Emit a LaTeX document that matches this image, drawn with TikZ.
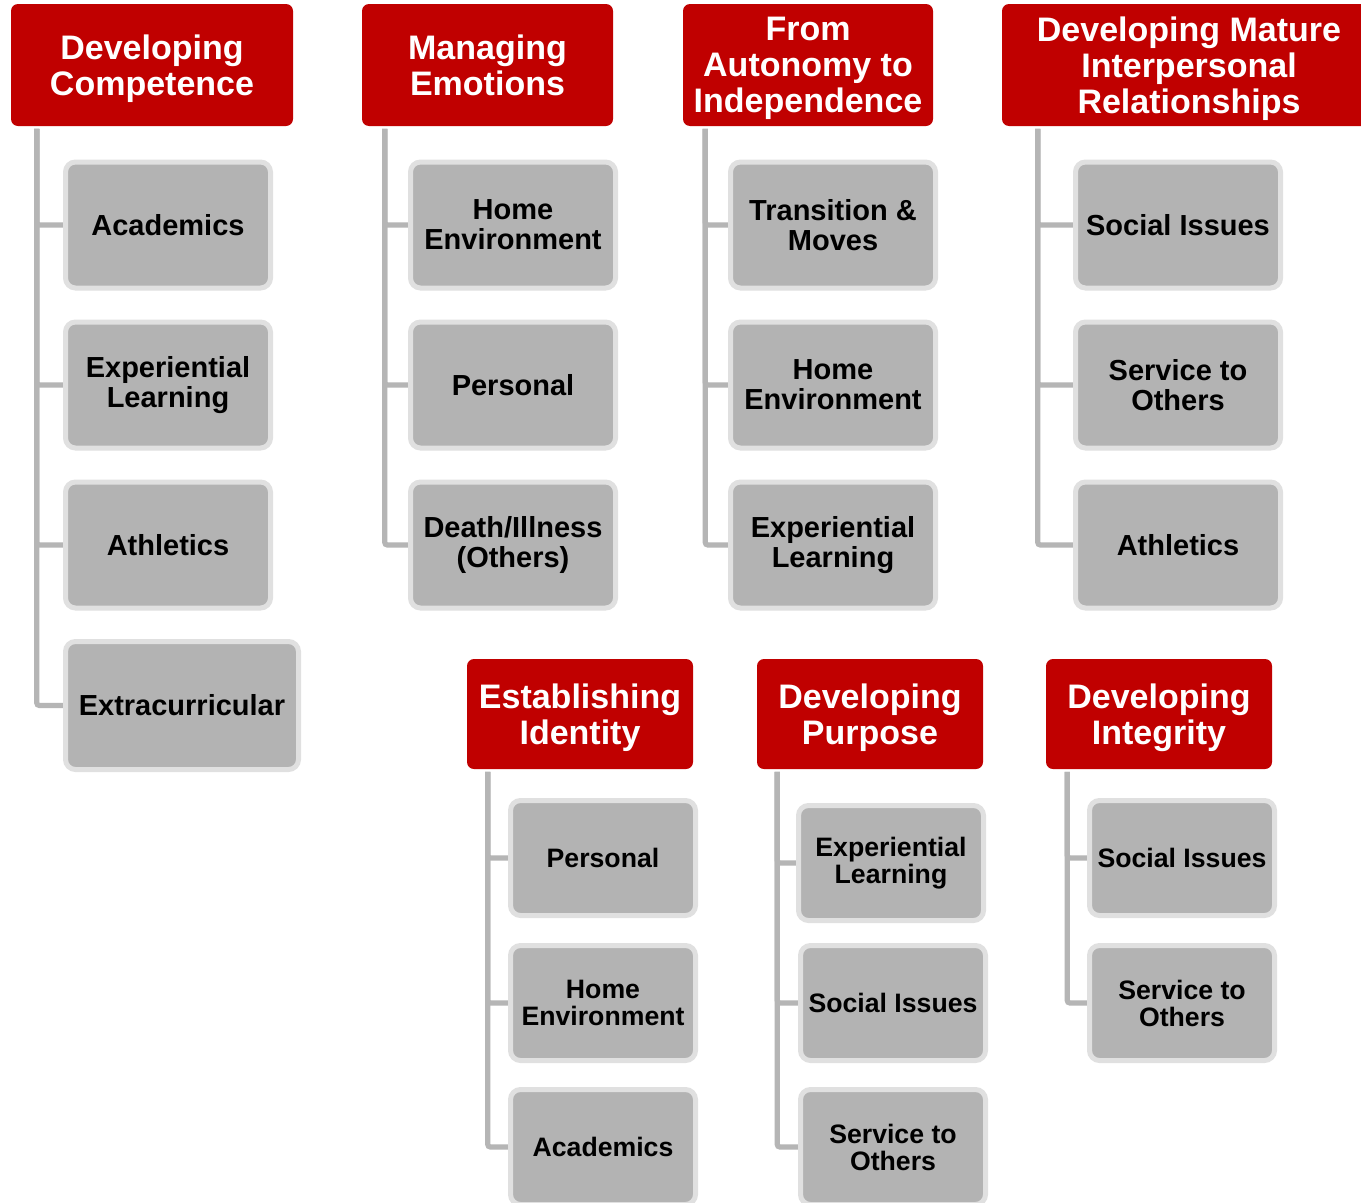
\documentclass[tikz,border=0pt]{standalone}
\usepackage{fontspec}
\setmainfont{Liberation Sans}
\usetikzlibrary{calc,backgrounds}
\definecolor{hdrred}{HTML}{C00000}
\definecolor{boxgray}{HTML}{B3B3B3}
\definecolor{boxedge}{HTML}{E0E0E0}
\definecolor{linegray}{HTML}{B5B5B5}
\tikzset{
  hdr/.style={fill=hdrred, text=white, rounded corners=5.25pt, inner sep=0pt,
    align=center, text depth=0pt, font=\fontsize{25.5}{27}\selectfont\bfseries},
  hdrbig/.style={hdr, minimum height=91.5pt},
  hdrsmall/.style={hdr, minimum width=169.5pt, minimum height=82.5pt},
  ubox/.style={fill=boxgray, draw=boxedge, line width=3.75pt, rounded corners=7.5pt,
    inner sep=0pt, align=center, text=black,
    minimum width=153.75pt, minimum height=94.5pt,
    font=\fontsize{21.75}{22.5}\selectfont\bfseries},
  lbox/.style={ubox, minimum width=138.75pt, minimum height=86.25pt,
    font=\fontsize{20}{20.25}\selectfont\bfseries},
  conn/.style={draw=linegray, line width=3.9pt, rounded corners=2pt}
}
\begin{document}
\begin{tikzpicture}[x=0.75pt,y=-0.75pt]
\useasboundingbox (0,0) rectangle (1361,1203);
\clip (0,0) rectangle (1361,1203);

% headers
\node[hdrbig, minimum width=211.5pt] (h1) at (152,65) {Developing\\Competence};
\node[hdrbig, minimum width=188.25pt] (h2) at (487.5,65) {Managing\\Emotions};
\node[hdrbig, minimum width=187.5pt] (h3) at (808,65) {From\\Autonomy to\\Independence};
\node[hdrbig, minimum width=280.5pt] (h4) at (1189,65) {Developing Mature\\Interpersonal\\Relationships};
\node[hdrsmall] (h5) at (580,714) {Establishing\\Identity};
\node[hdrsmall] (h6) at (870,714) {Developing\\Purpose};
\node[hdrsmall] (h7) at (1159,714) {Developing\\Integrity};

% column 1
\node[ubox] (a1) at (168,225) {Academics};
\node[ubox] (a2) at (168,385) {Experiential\\Learning};
\node[ubox] (a3) at (168,545) {Athletics};
\node[ubox, minimum width=174.75pt, minimum height=96pt] (a4) at (182,705.5) {Extracurricular};

% column 2
\node[ubox] (b1) at (513,225) {Home\\Environment};
\node[ubox] (b2) at (513,385) {Personal};
\node[ubox] (b3) at (513,545) {Death/Illness\\(Others)};

% column 3
\node[ubox] (c1) at (833,225) {Transition \&\\Moves};
\node[ubox] (c2) at (833,385) {Home\\Environment};
\node[ubox] (c3) at (833,545) {Experiential\\Learning};

% column 4
\node[ubox] (d1) at (1178,225) {Social Issues};
\node[ubox] (d2) at (1178,385) {Service to\\Others};
\node[ubox] (d3) at (1178,545) {Athletics};

% column 5
\node[lbox] (e1) at (603,858) {Personal};
\node[lbox] (e2) at (603,1003) {Home\\Environment};
\node[lbox] (e3) at (603,1147) {Academics};

% column 6
\node[lbox] (f1) at (891,863) {Experiential\\Learning};
\node[lbox] (f2) at (893,1003) {Social Issues};
\node[lbox] (f3) at (893,1147) {Service to\\Others};

% column 7
\node[lbox] (g1) at (1182,858) {Social Issues};
\node[lbox] (g2) at (1182,1003) {Service to\\Others};

\begin{scope}[on background layer]
\fill[white] (0,0) rectangle (1361,1203);
\foreach \c in {a1,a2,a3,a4}{\draw[conn] ($(h1.south west)+(26,2.5)$) |- (\c.west);}
\foreach \c in {b1,b2,b3}{\draw[conn] ($(h2.south west)+(23,2.5)$) |- (\c.west);}
\foreach \c in {c1,c2,c3}{\draw[conn] ($(h3.south west)+(22.5,2.5)$) |- (\c.west);}
\foreach \c in {d1,d2,d3}{\draw[conn] ($(h4.south west)+(36,2.5)$) |- (\c.west);}
\foreach \c in {e1,e2,e3}{\draw[conn] ($(h5.south west)+(21,2.5)$) |- (\c.west);}
\foreach \c in {f1,f2,f3}{\draw[conn] ($(h6.south west)+(20.5,2.5)$) |- (\c.west);}
\foreach \c in {g1,g2}{\draw[conn] ($(h7.south west)+(21.5,2.5)$) |- (\c.west);}
\end{scope}
\end{tikzpicture}
\end{document}
